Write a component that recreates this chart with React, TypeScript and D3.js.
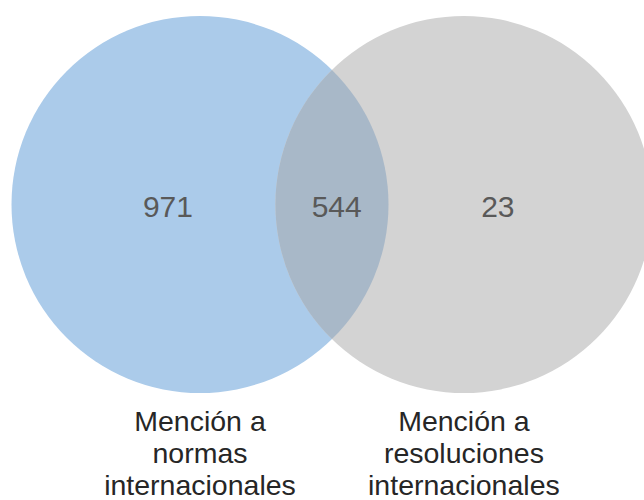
import React from "react";
import * as d3 from "d3";

const setNames = ["Mención a normas internacionales", "Mención a resoluciones internacionales"];
const setLines = [
  ["Mención a", "normas", "internacionales"],
  ["Mención a", "resoluciones", "internacionales"],
];
const regionLabels = ["971", "544", "23"];
const setColors = ["#abcbea", "#d3d3d3"];
const overlapColor = "#a8b8c8";

const W = 644;
const H = 500;

export default function App() {
  // layout in abstract units: two equal circles, centres 1.4 radii apart
  const x = d3.scaleLinear().domain([-1, 2.4]).range([11.5, 11.5 + 188.5 * 3.4]);
  const y = d3.scaleLinear().domain([-1, 1]).range([16, 393]);
  const r = x(1) - x(0);
  const centers = [0, 1.4].map((c) => ({ cx: x(c), cy: y(0) }));
  const d = centers[1].cx - centers[0].cx;
  const mx = (centers[0].cx + centers[1].cx) / 2;
  const h = Math.sqrt(r * r - (d / 2) * (d / 2));
  const top = y(0) - h;
  const bot = y(0) + h;
  const lens = `M${mx},${top} A${r},${r} 0 0 1 ${mx},${bot} A${r},${r} 0 0 1 ${mx},${top} Z`;

  const numX = [x(-0.17), x(0.725), x(1.58)];
  const numY = y(0) + 12.5;

  return (
    <svg
      width={W}
      height={H}
      style={{ position: "fixed", left: 0, top: 0, background: "#fff" }}
      fontFamily="'Liberation Sans', Arial, sans-serif"
    >
      {centers.map((c, i) => (
        <circle key={setNames[i]} cx={c.cx} cy={c.cy} r={r} fill={setColors[i]} />
      ))}
      <path d={lens} fill={overlapColor} />
      {regionLabels.map((t, i) => (
        <text key={t} x={numX[i]} y={numY} textAnchor="middle" fontSize={30} fill="#595959">
          {t}
        </text>
      ))}
      {setLines.map((lines, i) => (
        <text key={i} textAnchor="middle" fontSize={28.5} fill="#262626">
          {lines.map((l, j) => (
            <tspan key={j} x={centers[i].cx} y={431 + j * 32}>
              {l}
            </tspan>
          ))}
        </text>
      ))}
    </svg>
  );
}
